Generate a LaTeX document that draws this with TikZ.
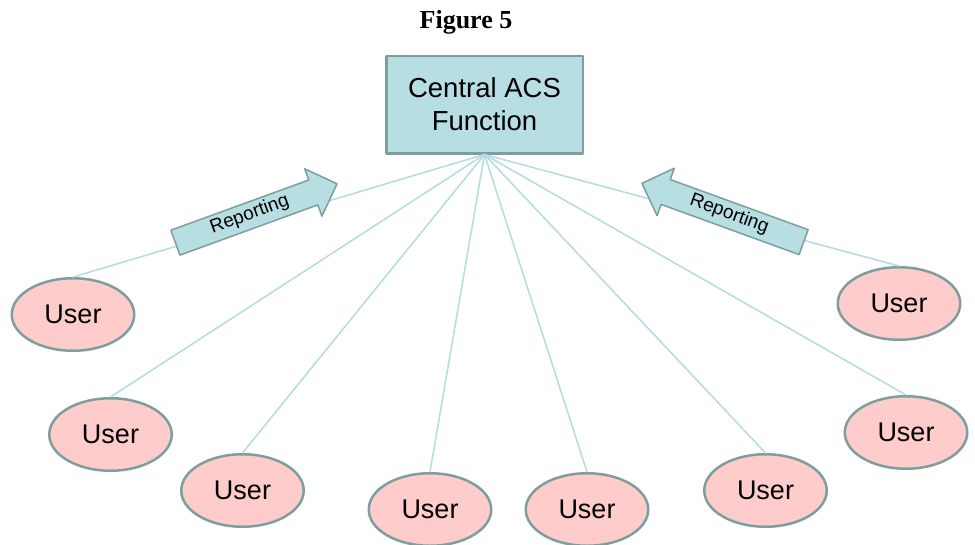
\documentclass[tikz,border=0pt]{standalone}
\usepackage{fontspec}
\setmainfont{Liberation Serif}
\setsansfont{Liberation Sans}
\usetikzlibrary{shapes.geometric, shapes.arrows}
\definecolor{ACSfill}{RGB}{183, 222, 226}
\definecolor{ACSedge}{RGB}{126, 158, 158}
\definecolor{userfill}{RGB}{255, 204, 204}
\definecolor{linkcol}{RGB}{178, 220, 224}
\tikzset{
    every path/.style={line cap=round, line join=round},
    central/.style={draw=ACSedge, fill=ACSfill, line width=2.5pt, minimum width=196.5pt, minimum height=97.5pt, align=center, font=\sffamily\fontsize{27.5}{33}\selectfont},
    user/.style={ellipse, draw=ACSedge, fill=userfill, line width=2.5pt, minimum width=122.5pt, minimum height=72.5pt, inner sep=0pt, font=\sffamily\fontsize{27}{32}\selectfont},
    link/.style={draw=linkcol, line width=1.5pt},
    report/.style={single arrow, draw=ACSedge, fill=ACSfill, line width=1.5pt, single arrow head extend=12pt, minimum height=172pt, inner xsep=2pt, text height=12pt, text depth=4pt, inner ysep=4.5pt, font=\sffamily\fontsize{19}{21}\selectfont}
}

\begin{document}
\begin{tikzpicture}[x=1pt, y=-1pt]
    \useasboundingbox (0,0) rectangle (975,544);

    \node [anchor=base, font=\bfseries\fontsize{26}{30}\selectfont] (title) at (466,28) {Figure 5};
    \node [central] (acs) at (484.5,104.5) {Central ACS\\Function};

    % users round the central function
    \foreach \name/\pos in {u1/{(73,314.5)}, u2/{(110.5,434.5)}, u3/{(242.5,490.5)}, u4/{(430,509.5)},
                            u5/{(587,509.5)}, u6/{(765.5,490.5)}, u7/{(899,303.5)}, u8/{(906,432.5)}}
        \node [user] (\name) at \pos {User};

    \foreach \name in {u1, u2, u3, u4, u5, u6, u7, u8}
        \draw [link] (acs.south) -- (\name.north);

    \node [report, rotate=20] (repL) at (250,215.5) {Reporting};
    \node [report, rotate=-20, shape border rotate=180] (repR) at (729,215) {Reporting};
\end{tikzpicture}
\end{document}
